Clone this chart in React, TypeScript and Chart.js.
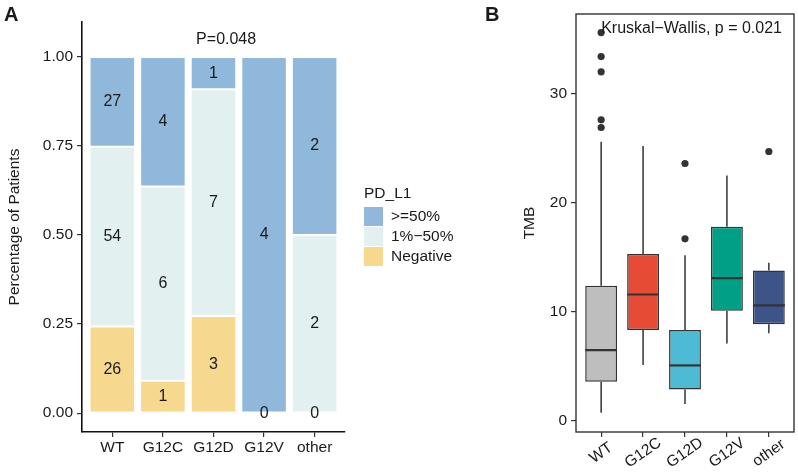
import React, { useEffect, useRef } from "react";
import { Chart, registerables } from "chart.js";

Chart.register(...registerables);

const FONT = "'Liberation Sans', Arial, sans-serif";
const TXT = "#1a1a1a";
const AXC = "#333333";

// ---- Panel A data ----
const categories = ["WT", "G12C", "G12D", "G12V", "other"];
const highCounts = [27, 4, 1, 4, 2];
const midCounts = [54, 6, 7, 0, 2];
const negCounts = [26, 1, 3, 0, 0];
const pdLevels = [">=50%", "1%\u221250%", "Negative"];
const pdColors = ["#8FB8DA", "#E3F0F0", "#F6D88E"];
const propTicks = [0, 0.25, 0.5, 0.75, 1];
const pText = "P=0.048";

// ---- Panel B data ----
const boxLower = [0.76, 5.14, 1.56, 7.1, 8.05];
const boxQ1 = [3.6, 8.35, 2.9, 10.1, 8.87];
const boxMedian = [6.5, 11.6, 5.1, 13.1, 10.6];
const boxQ3 = [12.4, 15.3, 8.35, 17.8, 13.8];
const boxUpper = [25.6, 25.2, 15.2, 22.5, 14.5];
const outliersWT = [35.6, 33.4, 32.0, 27.6, 26.9];
const outliersG12C: number[] = [];
const outliersG12D = [23.6, 16.7];
const outliersG12V: number[] = [];
const outliersOther = [24.7];
const boxColors = ["#BEBEBE", "#E64B35", "#4DBBD5", "#00A087", "#3C5488"];
const tmbTicks = [0, 10, 20, 30];
const kwText = "Kruskal\u2212Wallis, p = 0.021";

function PanelA() {
  const ref = useRef<HTMLCanvasElement>(null);
  useEffect(() => {
    const totals = categories.map((_, i) => highCounts[i] + midCounts[i] + negCounts[i]);
    const countSets = [negCounts, midCounts, highCounts];
    const colorSets = [pdColors[2], pdColors[1], pdColors[0]];
    const labelSets = [pdLevels[2], pdLevels[1], pdLevels[0]];
    const datasets: any[] = countSets.map((c, k) => ({
      type: "bar",
      label: labelSets[k],
      data: c.map((v, i) => ({ x: i + 1, y: v / totals[i] })),
      backgroundColor: colorSets[k],
      borderColor: "#ffffff",
      borderWidth: 1,
      borderSkipped: false,
      barPercentage: 0.9,
      categoryPercentage: 1,
      stack: "s",
    }));

    const labelPlugin = {
      id: "labelsA",
      afterDatasetsDraw(chart: any) {
        const ctx = chart.ctx;
        ctx.save();
        ctx.font = `16px ${FONT}`;
        ctx.fillStyle = TXT;
        ctx.textAlign = "center";
        ctx.textBaseline = "middle";
        const drawn = new Set<string>();
        countSets.forEach((c, k) => {
          const meta = chart.getDatasetMeta(k);
          c.forEach((v, i) => {
            const el = meta.data[i];
            const y = (el.y + el.base) / 2;
            const key = `${v}|${Math.round(el.x)}|${Math.round(y)}`;
            if (drawn.has(key)) return;
            drawn.add(key);
            ctx.fillText(String(v), el.x, y);
          });
        });
        const xs = chart.scales.x;
        const ys = chart.scales.y;
        ctx.fillText(pText, xs.getPixelForValue(3.25), ys.getPixelForValue(1.05));
        // panel tag
        ctx.font = `bold 20px ${FONT}`;
        ctx.textAlign = "left";
        ctx.fillText("A", 4, 15);
        // legend
        ctx.font = `15.5px ${FONT}`;
        ctx.fillText("PD_L1", 364, 194);
        pdLevels.forEach((lab, k) => {
          ctx.fillStyle = pdColors[k];
          ctx.fillRect(364, 207 + 20 * k, 19, 19);
          ctx.fillStyle = TXT;
          ctx.fillText(lab, 391, 216.5 + 20 * k);
        });
        ctx.restore();
      },
    };

    const chart = new Chart(ref.current!, {
      type: "bar",
      data: { datasets },
      options: {
        responsive: false,
        animation: false,
        devicePixelRatio: 1,
        layout: { padding: { left: 0, top: 22, right: 125, bottom: 0 } },
        plugins: { legend: { display: false }, tooltip: { enabled: false } },
        scales: {
          x: {
            type: "linear",
            min: 0.4,
            max: 5.6,
            stacked: true,
            offset: false,
            afterBuildTicks: (s: any) => {
              s.ticks = categories.map((_, i) => ({ value: i + 1 }));
            },
            afterFit: (s: any) => {
              s.height = 40;
            },
            ticks: {
              callback: (v: any) => categories[Math.round(Number(v)) - 1] ?? "",
              autoSkip: false,
              maxRotation: 0,
              minRotation: 0,
              color: TXT,
              font: { family: FONT, size: 15.5 },
              padding: 1,
            },
            grid: { display: true, offset: false, drawOnChartArea: false, drawTicks: true, tickLength: 5, color: AXC, lineWidth: 1.2 },
            border: { display: true, color: "#111", width: 1.6 },
          },
          y: {
            type: "linear",
            stacked: true,
            min: -0.053,
            max: 1.098,
            afterBuildTicks: (s: any) => {
              s.ticks = propTicks.map((v) => ({ value: v }));
            },
            afterFit: (s: any) => {
              s.width = 82;
            },
            ticks: {
              callback: (v: any) => Number(v).toFixed(2),
              color: TXT,
              font: { family: FONT, size: 15.5 },
              padding: 4,
            },
            grid: { display: true, offset: false, drawOnChartArea: false, drawTicks: true, tickLength: 5, color: AXC, lineWidth: 1.2 },
            border: { display: true, color: "#111", width: 1.6 },
            title: {
              display: true,
              text: "Percentage of Patients",
              color: TXT,
              font: { family: FONT, size: 15.5 },
              padding: { top: 5, bottom: 0 },
            },
          },
        },
      } as any,
      plugins: [labelPlugin],
    });
    return () => chart.destroy();
  }, []);
  return (
    <canvas
      ref={ref}
      width={470}
      height={472}
      style={{ position: "absolute", left: 0, top: 0, width: 470, height: 472 }}
    />
  );
}

function PanelB() {
  const ref = useRef<HTMLCanvasElement>(null);
  useEffect(() => {
    const outlierSets = [outliersWT, outliersG12C, outliersG12D, outliersG12V, outliersOther];
    const outlierPoints: any[] = [];
    outlierSets.forEach((arr, i) => arr.forEach((v) => outlierPoints.push({ x: i + 1, y: v })));

    const boxPlugin = {
      id: "boxB",
      beforeDatasetsDraw(chart: any) {
        const ctx = chart.ctx;
        const xs = chart.scales.x;
        const ys = chart.scales.y;
        ctx.save();
        ctx.strokeStyle = AXC;
        ctx.lineWidth = 1.5;
        categories.forEach((_, i) => {
          const x = xs.getPixelForValue(i + 1);
          ctx.beginPath();
          ctx.moveTo(x, ys.getPixelForValue(boxUpper[i]));
          ctx.lineTo(x, ys.getPixelForValue(boxQ3[i]));
          ctx.moveTo(x, ys.getPixelForValue(boxQ1[i]));
          ctx.lineTo(x, ys.getPixelForValue(boxLower[i]));
          ctx.stroke();
        });
        ctx.restore();
      },
      afterDatasetsDraw(chart: any) {
        const ctx = chart.ctx;
        const xs = chart.scales.x;
        const ys = chart.scales.y;
        const meta = chart.getDatasetMeta(0);
        ctx.save();
        ctx.strokeStyle = AXC;
        ctx.lineWidth = 2.2;
        categories.forEach((_, i) => {
          const el = meta.data[i];
          const y = ys.getPixelForValue(boxMedian[i]);
          ctx.beginPath();
          ctx.moveTo(el.x - el.width / 2, y);
          ctx.lineTo(el.x + el.width / 2, y);
          ctx.stroke();
        });
        const ca = chart.chartArea;
        ctx.lineWidth = 1.4;
        ctx.strokeRect(ca.left, ca.top, ca.right - ca.left, ca.bottom - ca.top);
        ctx.fillStyle = TXT;
        ctx.font = `16px ${FONT}`;
        ctx.textAlign = "left";
        ctx.textBaseline = "middle";
        ctx.fillText(kwText, xs.getPixelForValue(1), ys.getPixelForValue(36));
        // rotated category labels, centred under each tick
        ctx.font = `15.5px ${FONT}`;
        ctx.textAlign = "center";
        categories.forEach((c, i) => {
          const x = xs.getPixelForValue(i + 1);
          ctx.save();
          ctx.translate(x, ca.bottom + 21);
          ctx.rotate((-35 * Math.PI) / 180);
          ctx.fillText(c, 0, 0);
          ctx.restore();
        });
        ctx.font = `bold 20px ${FONT}`;
        ctx.textAlign = "left";
        ctx.fillText("B", 15, 15);
        ctx.restore();
      },
    };

    const chart = new Chart(ref.current!, {
      type: "bar",
      data: {
        datasets: [
          {
            type: "bar",
            data: categories.map((_, i) => ({ x: i + 1, y: [boxQ1[i], boxQ3[i]] })),
            backgroundColor: boxColors,
            borderColor: AXC,
            borderWidth: 1.5,
            borderSkipped: false,
            barPercentage: 0.76,
            categoryPercentage: 1,
          },
          {
            type: "scatter",
            data: outlierPoints,
            pointRadius: 3.6,
            backgroundColor: AXC,
            borderWidth: 0,
          },
        ] as any,
      },
      options: {
        responsive: false,
        animation: false,
        devicePixelRatio: 1,
        layout: { padding: { left: 40, top: 14, right: 2, bottom: 0 } },
        plugins: { legend: { display: false }, tooltip: { enabled: false } },
        scales: {
          x: {
            type: "linear",
            min: 0.4,
            max: 5.6,
            offset: false,
            afterBuildTicks: (s: any) => {
              s.ticks = categories.map((_, i) => ({ value: i + 1 }));
            },
            afterFit: (s: any) => {
              s.height = 40;
            },
            ticks: { display: false, autoSkip: false, maxRotation: 0, minRotation: 0 },
            grid: { display: true, offset: false, drawOnChartArea: false, drawTicks: true, tickLength: 5, color: AXC, lineWidth: 1.2 },
            border: { display: false },
          },
          y: {
            type: "linear",
            min: -1.0,
            max: 37.3,
            afterBuildTicks: (s: any) => {
              s.ticks = tmbTicks.map((v) => ({ value: v }));
            },
            afterFit: (s: any) => {
              s.width = 66;
            },
            ticks: {
              color: TXT,
              font: { family: FONT, size: 15.5 },
              padding: 4,
            },
            grid: { display: true, offset: false, drawOnChartArea: false, drawTicks: true, tickLength: 5, color: AXC, lineWidth: 1.2 },
            border: { display: false },
            title: {
              display: true,
              text: "TMB",
              color: TXT,
              font: { family: FONT, size: 15.5 },
              padding: { top: 10, bottom: 0 },
            },
          },
        },
      } as any,
      plugins: [boxPlugin],
    });
    return () => chart.destroy();
  }, []);
  return (
    <canvas
      ref={ref}
      width={328}
      height={472}
      style={{ position: "absolute", left: 470, top: 0, width: 328, height: 472 }}
    />
  );
}

export default function App() {
  return (
    <div
      style={{
        position: "fixed",
        left: 0,
        top: 0,
        width: 798,
        height: 472,
        background: "#ffffff",
        overflow: "hidden",
      }}
    >
      <PanelA />
      <PanelB />
    </div>
  );
}
